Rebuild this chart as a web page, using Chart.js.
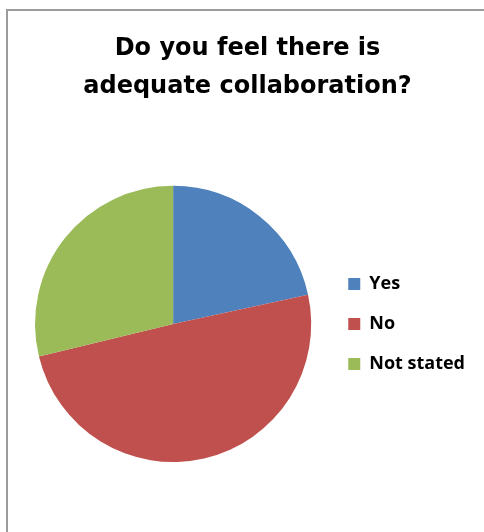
<!DOCTYPE html>
<html>
<head>
<meta charset="utf-8">
<script src="https://cdn.jsdelivr.net/npm/chart.js@4/dist/chart.umd.min.js"></script>
<style>
  html, body { margin: 0; padding: 0; background: #fff; overflow: hidden; }
  #wrap { position: relative; width: 484px; height: 532px; }
  #frame {
    position: absolute; left: 6px; top: 9px; width: 520px; height: 560px;
    border: 2px solid #9c9c9c; pointer-events: none;
  }
</style>
</head>
<body>
<div id="wrap">
  <canvas id="chart" width="484" height="532"></canvas>
  <div id="frame"></div>
</div>
<script>
// Survey answers (share of respondents, %)
const categories = ['Yes', 'No', 'Not stated'];
const shares = [21.6, 49.6, 28.8];
const sliceColors = ['#4F81BD', '#C0504D', '#9BBB59'];
const titleLines = ['Do you feel there is', 'adequate collaboration?'];

new Chart(document.getElementById('chart'), {
  type: 'pie',
  data: {
    labels: categories,
    datasets: [{
      data: shares,
      backgroundColor: sliceColors,
      borderWidth: 0,
      hoverOffset: 0
    }]
  },
  options: {
    responsive: false,
    animation: false,
    events: [],
    layout: { padding: { left: 20, right: 9, top: 0, bottom: 70 } },
    plugins: {
      title: {
        display: true,
        text: titleLines,
        color: '#000',
        font: { family: '"DejaVu Sans", sans-serif', size: 24, weight: 'bold', lineHeight: 1.58 },
        padding: { top: 30, bottom: 80 }
      },
      legend: {
        position: 'right',
        fullSize: false,
        labels: {
          color: '#000',
          font: { family: '"Open Sans", sans-serif', size: 18, weight: 'bold' },
          boxWidth: 12,
          boxHeight: 12,
          padding: 22
        }
      },
      tooltip: { enabled: false }
    }
  }
});
</script>
</body>
</html>
